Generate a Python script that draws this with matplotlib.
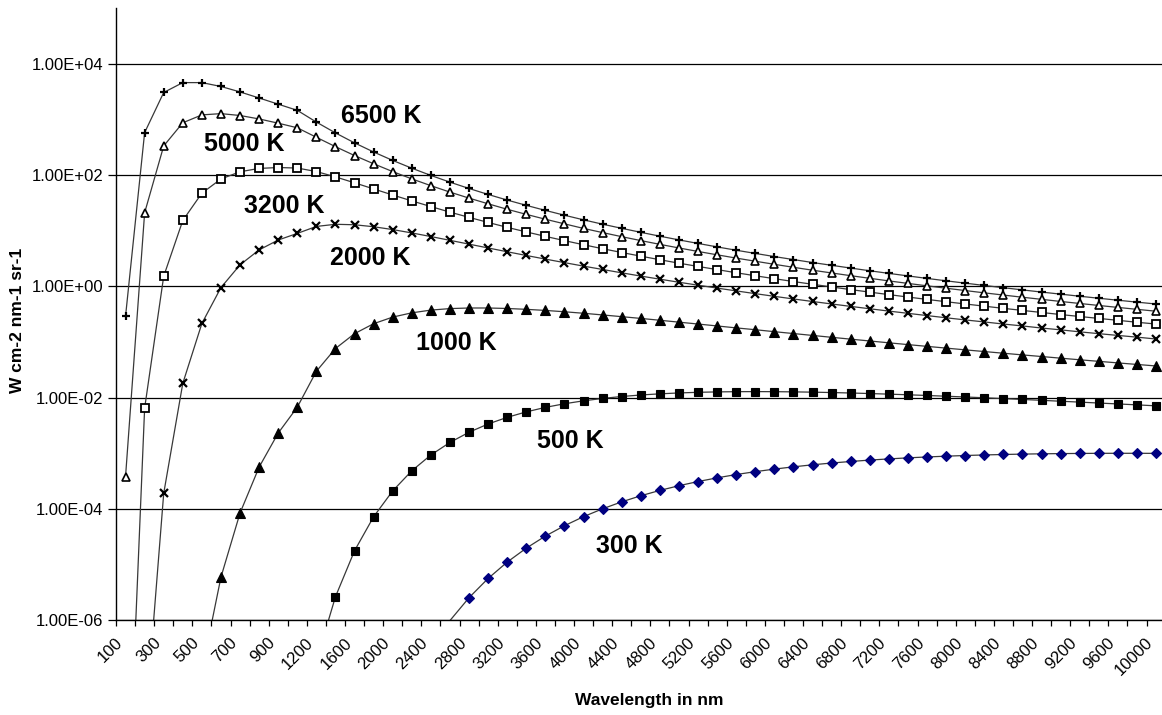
import matplotlib
matplotlib.use("Agg")
import matplotlib.pyplot as plt
from matplotlib.ticker import FixedLocator, NullLocator, FuncFormatter
import numpy as np

plt.rcParams['font.family'] = ['Liberation Sans', 'DejaVu Sans']

# Wavelength categories (nm)
wavelengths = [100, 200, 300, 400, 500, 600, 700, 800, 900, 1000,
               1200, 1400, 1600, 1800, 2000, 2200, 2400, 2600, 2800, 3000,
               3200, 3400, 3600, 3800, 4000, 4200, 4400, 4600, 4800, 5000,
               5200, 5400, 5600, 5800, 6000, 6200, 6400, 6600, 6800, 7000,
               7200, 7400, 7600, 7800, 8000, 8200, 8400, 8600, 8800, 9000,
               9200, 9400, 9600, 9800, 10000]

# Spectral radiance series
t6500 = [0.290, 581, 3064, 4611, 4609, 3928, 3133, 2438, 1887, 1462,
         899, 574, 380, 260.5, 183.8, 133.2, 98.7, 74.7, 57.5, 44.9,
         35.6, 28.6, 23.2, 19.0, 15.7, 13.1, 11.05, 9.36, 7.98, 6.84,
         5.91, 5.12, 4.46, 3.91, 3.43, 3.03, 2.68, 2.39, 2.13, 1.905,
         1.71, 1.54, 1.389, 1.257, 1.141, 1.037, 0.945, 0.863, 0.789, 0.724,
         0.664, 0.611, 0.563, 0.520, 0.481]
t5000 = [3.79e-4, 21.0, 335, 874, 1211, 1276, 1181, 1024, 859, 710,
         479, 325, 225, 160, 115.7, 85.6, 64.6, 49.5, 38.6, 30.5,
         24.3, 19.7, 16.1, 13.3, 11.0, 9.26, 7.82, 6.65, 5.69, 4.90,
         4.24, 3.69, 3.22, 2.83, 2.49, 2.20, 1.95, 1.74, 1.555, 1.394,
         1.253, 1.129, 1.021, 0.925, 0.840, 0.764, 0.697, 0.637, 0.584, 0.535,
         0.492, 0.453, 0.418, 0.386, 0.357]
t3200 = [3.55e-11, 6.42e-3, 1.52, 15.3, 47.4, 85.3, 115, 132, 137, 134,
         116, 93.0, 72.7, 56.5, 43.9, 34.4, 27.2, 21.6, 17.4, 14.1,
         11.5, 9.52, 7.92, 6.64, 5.60, 4.75, 4.06, 3.49, 3.01, 2.61,
         2.28, 2.00, 1.756, 1.550, 1.373, 1.220, 1.089, 0.974, 0.874, 0.787,
         0.710, 0.642, 0.582, 0.529, 0.482, 0.440, 0.402, 0.369, 0.339, 0.311,
         0.287, 0.265, 0.245, 0.226, 0.210]
t2000 = [6.8e-23, 8.90e-9, 1.89e-4, 1.80e-2, 0.215, 0.951, 2.44, 4.52, 6.81, 8.95,
         11.95, 13.06, 12.81, 11.80, 10.49, 9.13, 7.86, 6.72, 5.74, 4.90,
         4.19, 3.59, 3.09, 2.67, 2.31, 2.01, 1.75, 1.53, 1.345, 1.185,
         1.049, 0.930, 0.828, 0.739, 0.661, 0.593, 0.534, 0.482, 0.436, 0.395,
         0.359, 0.327, 0.298, 0.272, 0.249, 0.229, 0.210, 0.194, 0.178, 0.165,
         0.152, 0.141, 0.131, 0.122, 0.113]
t1000 = [3.9e-54, 2.1e-24, 7.3e-15, 2.78e-10, 1.21e-7, 5.90e-6, 8.39e-5, 5.62e-4, 2.30e-3, 6.72e-3,
         2.97e-2, 7.62e-2, 0.141, 0.213, 0.280, 0.334, 0.374, 0.398, 0.408, 0.408,
         0.400, 0.386, 0.369, 0.349, 0.328, 0.306, 0.285, 0.265, 0.2455, 0.227,
         0.210, 0.194, 0.179, 0.166, 0.153, 0.1416, 0.131, 0.1212, 0.1123, 0.1041,
         0.0965, 0.0896, 0.0833, 0.0775, 0.0721, 0.0672, 0.0627, 0.0585, 0.0547, 0.0511,
         0.0478, 0.0448, 0.0420, 0.0394, 0.0370]
t500 = [1.3e-116, 1.2e-55, 1.1e-35, 6.6e-26, 3.9e-20, 2.3e-16, 1.0e-13, 8.7e-12, 2.6e-10, 3.79e-9,
        1.84e-7, 2.62e-6, 1.76e-5, 7.19e-5, 2.10e-4, 4.82e-4, 9.28e-4, 1.56e-3, 2.38e-3, 3.35e-3,
        4.41e-3, 5.53e-3, 6.66e-3, 7.74e-3, 8.74e-3, 9.65e-3, 1.045e-2, 1.112e-2, 1.167e-2, 1.211e-2,
        1.243e-2, 1.264e-2, 1.276e-2, 1.280e-2, 1.276e-2, 1.266e-2, 1.251e-2, 1.231e-2, 1.208e-2, 1.181e-2,
        1.152e-2, 1.122e-2, 1.090e-2, 1.057e-2, 1.024e-2, 9.91e-3, 9.58e-3, 9.25e-3, 8.92e-3, 8.59e-3,
        8.28e-3, 7.97e-3, 7.68e-3, 7.39e-3, 7.10e-3]
t300 = [6e-200, 2.7e-97, 1.8e-63, 1.0e-46, 8.4e-37, 3.0e-30, 1.2e-25, 3.3e-22, 1.4e-19, 1.77e-17,
        2.1e-14, 2.9e-12, 1.09e-10, 1.69e-9, 1.43e-8, 7.87e-8, 3.14e-7, 9.77e-7, 2.52e-6, 5.59e-6,
        1.10e-5, 1.96e-5, 3.23e-5, 4.96e-5, 7.22e-5, 1.00e-4, 1.333e-4, 1.715e-4, 2.14e-4, 2.60e-4,
        3.09e-4, 3.60e-4, 4.13e-4, 4.65e-4, 5.17e-4, 5.68e-4, 6.18e-4, 6.65e-4, 7.09e-4, 7.51e-4,
        7.89e-4, 8.24e-4, 8.55e-4, 8.83e-4, 9.08e-4, 9.29e-4, 9.47e-4, 9.62e-4, 9.74e-4, 9.83e-4,
        9.89e-4, 9.94e-4, 9.95e-4, 9.95e-4, 9.92e-4]

series_labels = ["6500 K", "5000 K", "3200 K", "2000 K", "1000 K", "500 K", "300 K"]

Y_MIN, Y_MAX = 1e-6, 1e5

W, H = 1162, 715
fig = plt.figure(figsize=(W / 100, H / 100), dpi=100)
ax_left, ax_right, ax_bottom, ax_top = 116, 1165.6, 620, 8.3
ax = fig.add_axes([ax_left / W, 1 - ax_bottom / H,
                   (ax_right - ax_left) / W, (ax_bottom - ax_top) / H])

x = np.arange(len(wavelengths))
line_col = '#383838'
styles = [
    (t6500, dict(marker='+', ms=6, mew=1.6, mec='black', mfc='black')),
    (t5000, dict(marker='^', ms=6.2, mew=1.2, mec='black', mfc='white')),
    (t3200, dict(marker='s', ms=5.6, mew=1.3, mec='black', mfc='white')),
    (t2000, dict(marker='x', ms=5.2, mew=1.6, mec='black', mfc='black')),
    (t1000, dict(marker='^', ms=6.6, mew=0.8, mec='black', mfc='black')),
    (t500, dict(marker='s', ms=6.0, mew=0.8, mec='black', mfc='black')),
    (t300, dict(marker='D', ms=4.8, mew=0.8, mec='#000080', mfc='#000080')),
]
for vals, st in styles:
    arr = np.asarray(vals, dtype=float)
    visible = list(arr >= Y_MIN)  # markers only for points inside the axis range
    ax.plot(x, arr, color=line_col, lw=0.9, markevery=visible, **st)

ax.set_yscale('log')
ax.set_ylim(Y_MIN, Y_MAX)
ax.set_xlim(-0.5, len(wavelengths) - 0.5)

yt = [1e-6, 1e-4, 1e-2, 1e0, 1e2, 1e4]
ax.yaxis.set_major_locator(FixedLocator(yt))
ax.yaxis.set_minor_locator(NullLocator())
ax.yaxis.set_major_formatter(FuncFormatter(lambda v, pos: "%.2E" % v))
ax.tick_params(axis='y', which='major', direction='out', length=5.5, width=0.9,
               pad=3.5, labelsize=12, colors='black')
ax.grid(axis='y', which='major', color='black', lw=0.9)

ax.set_xticks(x[::2])
ax.set_xticklabels([str(w) for w in wavelengths[::2]], rotation=45,
                   ha='right', fontsize=12)
ax.set_xticks(np.arange(-0.5, len(wavelengths), 1), minor=True)
ax.tick_params(axis='x', which='major', length=0, pad=11)
ax.tick_params(axis='x', which='minor', direction='out', length=4.5, width=0.9)

for s in ['top', 'right']:
    ax.spines[s].set_visible(False)
for s in ['left', 'bottom']:
    ax.spines[s].set_color('black')
    ax.spines[s].set_linewidth(1.0)

# series labels (pixel centres)
label_pos = [(381, 116), (244, 144), (284, 206), (370, 258), (456, 343), (570, 441), (629, 546)]
for txt, (px, py) in zip(series_labels, label_pos):
    fig.text(px / W, 1 - py / H, txt, ha='center', va='center',
             fontsize=18, fontweight='bold', color='black')

fig.text(649 / W, 1 - 701 / H, "Wavelength in nm", ha='center', va='center',
         fontsize=12.5, fontweight='bold')
fig.text(17.5 / W, 1 - 320 / H, "W cm-2 nm-1 sr-1", ha='center', va='center',
         rotation=90, fontsize=12.5, fontweight='bold')

fig.savefig("out.png", dpi=100)
